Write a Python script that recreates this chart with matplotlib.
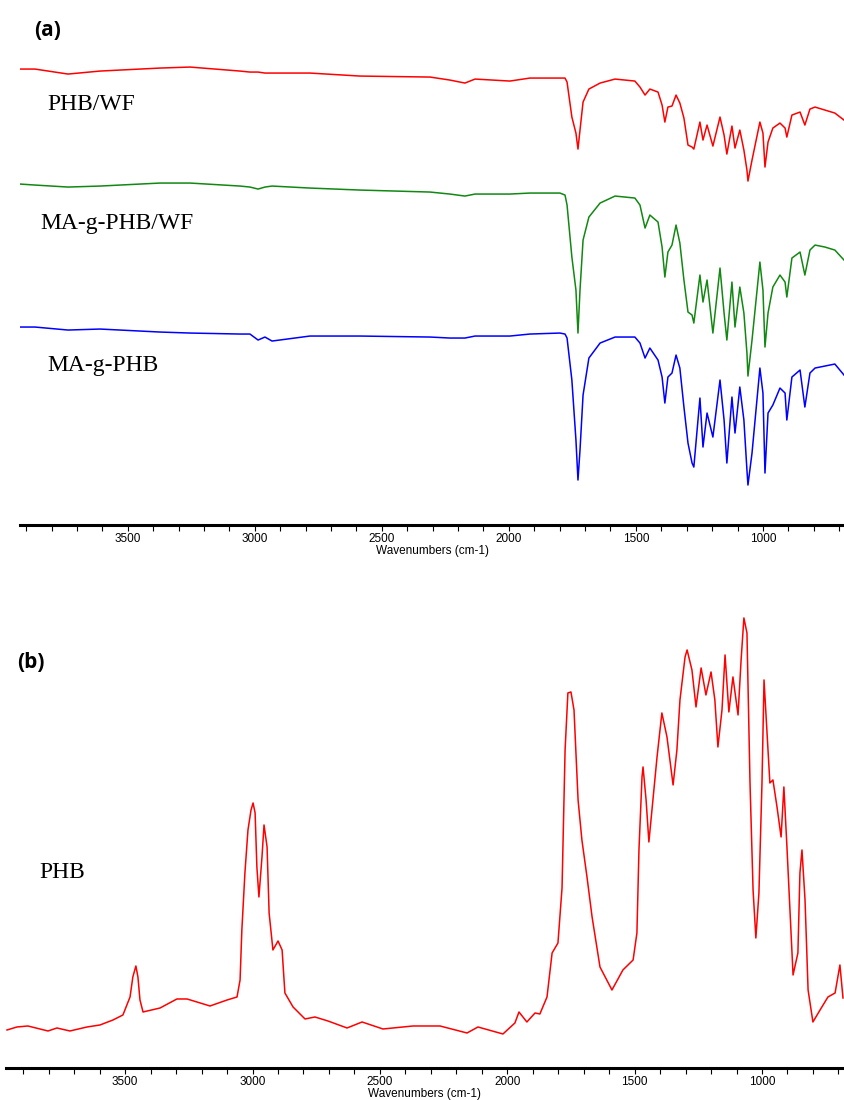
import matplotlib
matplotlib.use("Agg")
import matplotlib.pyplot as plt
from matplotlib.ticker import MultipleLocator

# (a) three grafted / composite spectra on a common wavenumber grid
wn_a = [3924, 3865, 3735, 3609, 3373, 3255, 3058, 3019, 2987, 2960, 2932, 2783, 2586,
        2310, 2232, 2173, 2133, 1996, 1917, 1799, 1779, 1771, 1752, 1736, 1728, 1720,
        1708, 1685, 1641, 1582, 1504, 1484, 1464, 1445, 1413, 1397, 1386, 1374, 1358,
        1342, 1327, 1311, 1295, 1279, 1272, 1248, 1236, 1220, 1197, 1169, 1153, 1142,
        1122, 1110, 1091, 1075, 1063, 1059, 1043, 1012, 1000, 992, 980, 961, 933, 913,
        906, 886, 854, 835, 815, 795, 756, 717, 681]

phb_wf = [456, 456, 451, 454, 457, 458, 454, 453, 453, 452, 452, 452, 449,
          448, 445, 442, 446, 444, 447, 447, 447, 443, 408, 392, 376, 395,
          423, 436, 442, 446, 444, 438, 430, 436, 433, 420, 403, 418, 419,
          430, 422, 407, 380, 378, 376, 403, 385, 400, 379, 408, 390, 371,
          399, 377, 395, 375, 355, 344, 365, 403, 392, 358, 383, 397, 402, 397,
          388, 410, 413, 400, 416, 418, 415, 412, 405]

ma_phb_wf = [341, 340, 338, 339, 342, 342, 339, 338, 336, 338, 339, 337, 335,
             333, 331, 329, 331, 331, 332, 332, 330, 320, 268, 235, 192, 235,
             285, 308, 322, 329, 327, 320, 297, 310, 303, 278, 248, 273, 280,
             300, 282, 245, 213, 210, 202, 250, 223, 245, 192, 257, 212, 185,
             243, 198, 238, 212, 172, 149, 185, 263, 235, 178, 212, 238, 250, 243,
             228, 267, 273, 250, 275, 280, 278, 275, 265]

ma_phb = [198, 198, 195, 196, 193, 192, 191, 191, 185, 188, 184, 189, 189,
          188, 187, 187, 189, 189, 191, 192, 191, 187, 145, 85, 45, 75,
          130, 167, 182, 188, 188, 182, 167, 177, 165, 148, 122, 148, 152,
          170, 157, 118, 82, 62, 58, 127, 78, 112, 88, 145, 105, 62,
          128, 92, 138, 105, 55, 40, 72, 157, 132, 52, 112, 120, 137, 132,
          105, 148, 155, 118, 152, 157, 159, 161, 150]

# (b) neat PHB spectrum
wn_b = [3964, 3925, 3882, 3803, 3768, 3717, 3650, 3599, 3548, 3509, 3481, 3470, 3458,
        3450, 3442, 3430, 3363, 3297, 3257, 3206, 3167, 3100, 3061, 3049, 3042, 3030,
        3018, 3006, 2998, 2990, 2983, 2975, 2963, 2955, 2943, 2935, 2920, 2900, 2884,
        2873, 2841, 2794, 2755, 2704, 2629, 2570, 2488, 2370, 2264, 2158, 2115, 2017,
        1970, 1954, 1923, 1891, 1872, 1844, 1824, 1801, 1785, 1773, 1762, 1750, 1738,
        1722, 1707, 1687, 1667, 1636, 1589, 1546, 1506, 1491, 1483, 1471, 1467, 1455,
        1444, 1428, 1412, 1393, 1373, 1349, 1334, 1322, 1302, 1294, 1275, 1259, 1239,
        1220, 1200, 1185, 1173, 1157, 1145, 1130, 1114, 1094, 1082, 1071, 1059, 1047,
        1035, 1024, 1012, 1000, 992, 980, 969, 957, 941, 925, 914, 902, 886, 878, 859,
        851, 843, 831, 819, 800, 772, 741, 713, 694, 682]

phb = [38, 41, 42, 37, 40, 37, 41, 43, 48, 53, 71, 91, 102,
       91, 68, 56, 60, 69, 69, 65, 62, 68, 71, 88, 138, 195,
       238, 258, 265, 255, 201, 171, 211, 243, 221, 155, 118, 127, 118,
       75, 61, 49, 51, 47, 40, 46, 39, 42, 42, 35, 41, 34,
       45, 56, 46, 55, 54, 71, 115, 125, 180, 318, 375, 376, 358,
       268, 228, 191, 151, 101, 78, 98, 108, 135, 218, 291, 301, 268,
       226, 268, 311, 355, 331, 283, 318, 368, 411, 418, 398, 361, 400,
       373, 396, 368, 321, 358, 413, 356, 391, 353, 408, 450, 435, 285,
       178, 130, 175, 285, 388, 335, 285, 288, 261, 231, 281, 221, 135, 93,
       115, 195, 218, 168, 78, 46, 58, 71, 75, 103, 70]

tick_font = ["Liberation Sans", "DejaVu Sans"]


def style_axis(ax, xlim, ylim):
    """Spectrometer-style axis: only a heavy bottom line with ticks every 100 cm-1."""
    ax.set_xlim(*xlim)
    ax.set_ylim(*ylim)
    for side in ("top", "left", "right"):
        ax.spines[side].set_visible(False)
    ax.spines["bottom"].set_linewidth(2.2)
    ax.set_yticks([])
    ax.xaxis.set_major_locator(MultipleLocator(500))
    ax.xaxis.set_minor_locator(MultipleLocator(100))
    ax.tick_params(axis="x", which="both", direction="out", length=4, width=0.8,
                   pad=2, labelsize=8.5)
    ax.set_xticks([3500, 3000, 2500, 2000, 1500, 1000])
    for lab in ax.get_xticklabels():
        lab.set_family(tick_font)
    ax.set_xlabel("Wavenumbers (cm-1)", family=tick_font, fontsize=8.5, labelpad=0)


def main() -> None:
    fig = plt.figure(figsize=(8.44, 11), dpi=100)

    ax_a = fig.add_axes([0.0237, 0.5227, 0.9763, 0.4227])
    ax_a.plot(wn_a, phb_wf, color="#ff0000", lw=1.1)
    ax_a.plot(wn_a, ma_phb_wf, color="#118811", lw=1.1)
    ax_a.plot(wn_a, ma_phb, color="#0000ff", lw=1.1)
    style_axis(ax_a, (3924, 681), (0, 465))

    ax_b = fig.add_axes([0.0071, 0.0291, 0.9929, 0.4164])
    ax_b.plot(wn_b, phb, color="#ff0000", lw=1.1)
    style_axis(ax_b, (3968, 678), (0, 458))

    # sample names in a serif face, panel letters bold
    serif = ["Liberation Serif", "DejaVu Serif"]
    fig.text(47 / 844, 1 - 105 / 1100, "PHB/WF", family=serif, fontsize=17, va="center")
    fig.text(40 / 844, 1 - 224 / 1100, "MA-g-PHB/WF", family=serif, fontsize=17, va="center")
    fig.text(47 / 844, 1 - 366 / 1100, "MA-g-PHB", family=serif, fontsize=17, va="center")
    fig.text(39 / 844, 1 - 872 / 1100, "PHB", family=serif, fontsize=17, va="center")

    letter = ["Open Sans", "DejaVu Sans"]
    fig.text(34 / 844, 1 - 30 / 1100, "(a)", family=letter,
             fontweight="bold", fontsize=15, va="center")
    fig.text(17 / 844, 1 - 662 / 1100, "(b)", family=letter,
             fontweight="bold", fontsize=15, va="center")

    fig.savefig("out.png", dpi=100)


if __name__ == "__main__":
    main()
